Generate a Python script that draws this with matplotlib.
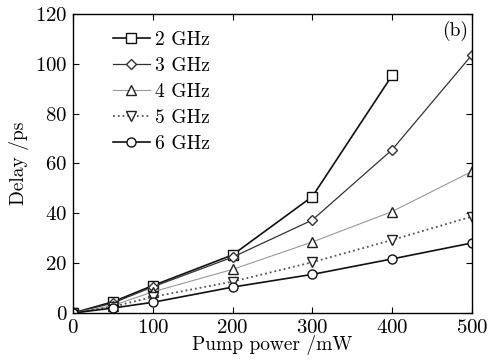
import matplotlib
matplotlib.use("Agg")
import matplotlib.pyplot as plt

plt.rcParams["font.family"] = "cmr10"
plt.rcParams["mathtext.fontset"] = "cm"
plt.rcParams["axes.formatter.use_mathtext"] = True

# Pump power (mW) and delay (ps) per modulation frequency
power = [0, 50, 100, 200, 300, 400, 500]
delay_2ghz = [0, 4.5, 11.0, 23.3, 46.7, 95.3]
delay_3ghz = [0, 4.0, 10.5, 22.4, 37.3, 65.5, 103.5]
delay_4ghz = [0, 3.0, 8.5, 17.5, 28.5, 40.7, 56.8]
delay_5ghz = [0, 2.5, 6.5, 12.6, 20.4, 29.3, 38.7]
delay_6ghz = [0, 2.0, 4.3, 10.4, 15.5, 21.7, 28.1]
labels = ["2 GHz", "3 GHz", "4 GHz", "5 GHz", "6 GHz"]

series = [delay_2ghz, delay_3ghz, delay_4ghz, delay_5ghz, delay_6ghz]
styles = [
    dict(marker="s", color="#111111", ls="-", lw=1.2),
    dict(marker="D", color="#333333", ls="-", lw=0.9, ms=5),
    dict(marker="^", color="#999999", ls="-", lw=0.8, mec="#222222"),
    dict(marker="v", color="#555555", ls=":", lw=1.3, mec="#222222"),
    dict(marker="o", color="#111111", ls="-", lw=1.2),
]

fig = plt.figure(figsize=[4.9, 3.64], dpi=100)
ax = fig.add_axes([0.149, 0.140, 0.814, 0.822])

for vals, lab, st in zip(series, labels, styles):
    st = dict(st)
    st.setdefault("ms", 6.5)
    st.setdefault("mec", st["color"])
    ax.plot(power[:len(vals)], vals, label=lab, mfc="white", mew=1.0, **st)

ax.set_xlim(0, 500)
ax.set_ylim(0, 120)
ax.set_xticks([0, 100, 200, 300, 400, 500])
ax.set_yticks([0, 20, 40, 60, 80, 100, 120])
ax.tick_params(direction="in", top=True, right=True, labelsize=15, length=4, pad=4)
for sp in ax.spines.values():
    sp.set_linewidth(1.0)

ax.set_xlabel("Pump power /mW", fontsize=14, labelpad=-1)
ax.set_ylabel("Delay /ps", fontsize=14, labelpad=4)
ax.text(0.99, 0.975, "(b)", transform=ax.transAxes, ha="right", va="top", fontsize=14)

ax.legend(loc="upper left", bbox_to_anchor=(0.08, 0.97), frameon=False, fontsize=14,
          handlelength=1.9, handletextpad=0.3, labelspacing=0.42, borderaxespad=0)

plt.savefig("out.png", dpi=100)
